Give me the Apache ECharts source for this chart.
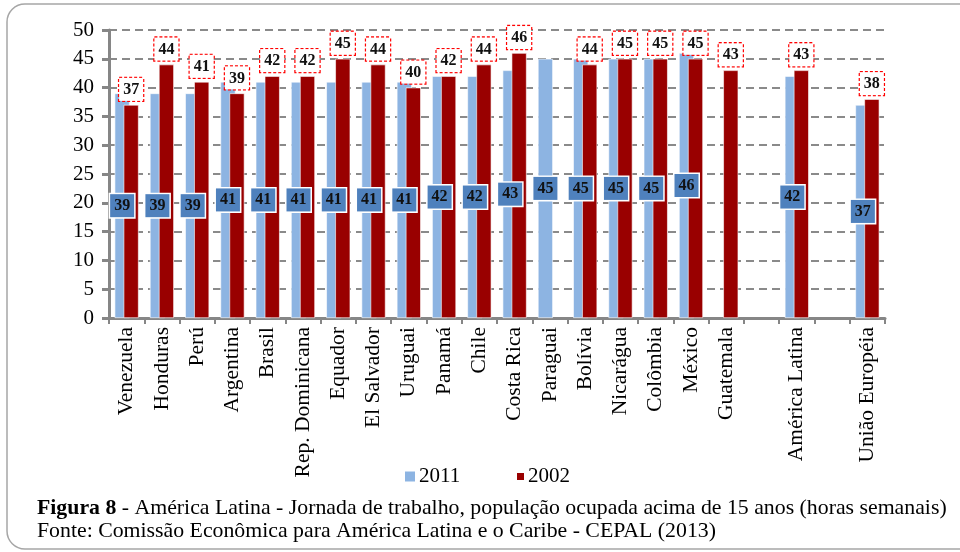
<!DOCTYPE html>
<html>
<head>
<meta charset="utf-8">
<script src="https://cdn.jsdelivr.net/npm/echarts@6/dist/echarts.min.js"></script>
<style>
  html, body { margin: 0; padding: 0; background: #fff; }
  #chart { width: 960px; height: 552px; }
</style>
</head>
<body>
<div id="chart"></div>
<script>
// Weekly working hours of the employed population aged 15+, by country
const categories = [
  'Venezuela', 'Honduras', 'Perú', 'Argentina', 'Brasil', 'Rep. Dominicana',
  'Equador', 'El Salvador', 'Uruguai', 'Panamá', 'Chile', 'Costa Rica',
  'Paraguai', 'Bolívia', 'Nicarágua', 'Colômbia', 'México', 'Guatemala',
  '', 'América Latina', '', 'União Européia'
];
const hours2011 = [39, 39, 39, 41, 41, 41, 41, 41, 41, 42, 42, 43, 45, 45, 45, 45, 46, null, null, 42, null, 37];
const hours2002 = [37, 44, 41, 39, 42, 42, 45, 44, 40, 42, 44, 46, null, 44, 45, 45, 45, 43, null, 43, null, 38];
const yTicks = { min: 0, max: 50, interval: 5 };

const serif = "'Liberation Serif', 'Times New Roman', serif";
const chart = echarts.init(document.getElementById('chart'), null, { renderer: 'canvas' });

chart.setOption({
  animation: false,
  textStyle: { fontFamily: serif },
  grid: { left: 109, right: 75, top: 30, bottom: 234, containLabel: false },
  legend: [
    {
      data: ['2011'], left: 398, top: 461, itemWidth: 12, itemHeight: 12, itemGap: 0,
      icon: 'rect',
      textStyle: { fontFamily: serif, fontSize: 21, color: '#000', padding: [0, 0, 0, -2] }
    },
    {
      data: ['2002'], left: 510, top: 461, itemWidth: 9, itemHeight: 9, itemGap: 0,
      icon: 'rect',
      textStyle: { fontFamily: serif, fontSize: 21, color: '#000', padding: [0, 0, 0, -2] }
    }
  ],
  xAxis: {
    type: 'category',
    data: categories,
    axisLine: { lineStyle: { color: '#868686', width: 3 } },
    axisTick: { show: true, alignWithLabel: false, length: 6, lineStyle: { color: '#868686', width: 2 } },
    axisLabel: {
      interval: 0, rotate: 90, margin: 9,
      fontFamily: serif, fontSize: 21.5, color: '#000'
    }
  },
  yAxis: {
    type: 'value',
    min: yTicks.min, max: yTicks.max, interval: yTicks.interval,
    axisLine: { show: true, lineStyle: { color: '#868686', width: 3 } },
    axisTick: { show: true, length: 7, lineStyle: { color: '#868686', width: 3 } },
    axisLabel: { margin: 15, fontFamily: serif, fontSize: 21, color: '#000' },
    splitLine: { lineStyle: { color: '#8a8a8a', width: 2, type: [8, 5] } }
  },
  series: [
    {
      name: '2011',
      type: 'bar',
      data: hours2011,
      barWidth: 15,
      barGap: '-40%',
      itemStyle: { color: '#8DB4E2', borderColor: '#ffffff', borderWidth: 0.6 },
      label: {
        show: true, position: 'inside',
        fontFamily: serif, fontSize: 16, fontWeight: 'bold', color: '#111',
        backgroundColor: '#4F81BD', borderColor: '#ffffff', borderWidth: 1.5,
        padding: [4, 4, 3, 4]
      }
    },
    {
      name: '2002',
      type: 'bar',
      data: hours2002,
      barWidth: 15,
      itemStyle: { color: '#990000', borderColor: '#ffffff', borderWidth: 0.6 },
      label: {
        show: true, position: 'top', distance: 4,
        fontFamily: serif, fontSize: 16, fontWeight: 'bold', color: '#111',
        backgroundColor: '#ffffff', borderColor: '#ff0000', borderWidth: 1.2,
        borderType: [3, 2],
        padding: [4, 4, 3, 4]
      }
    }
  ],
  graphic: [
    {
      type: 'rect', silent: true, z: -1,
      shape: { x: 7, y: 4, width: 985, height: 545, r: 18 },
      style: { fill: 'none', stroke: '#a6a6a6', lineWidth: 1.5 }
    },
    {
      type: 'text', left: 37, top: 497,
      style: {
        text: '{b|Figura 8} - América Latina - Jornada de trabalho, população ocupada acima de 15 anos (horas semanais)',
        rich: {
          b: { fontFamily: serif, fontSize: 21.8, fontWeight: 'bold', fill: '#000' }
        },
        fontFamily: serif, fontSize: 21.8, fill: '#000'
      }
    },
    {
      type: 'text', left: 37, top: 520,
      style: {
        text: 'Fonte: Comissão Econômica para América Latina e o Caribe - CEPAL (2013)',
        fontFamily: serif, fontSize: 21.8, fill: '#000'
      }
    }
  ]
});
</script>
</body>
</html>
